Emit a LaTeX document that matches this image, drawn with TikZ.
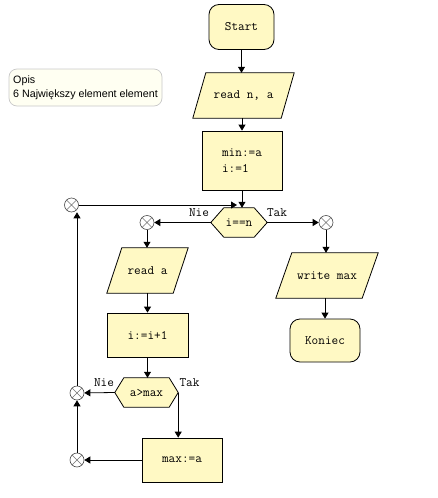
\documentclass[tikz,border=0pt]{standalone}
\usepackage{fontspec}
\setmainfont{Liberation Sans}
\usetikzlibrary{arrows.meta,backgrounds}
\definecolor{boxfill}{HTML}{FFF9C4}
\definecolor{opisfill}{HTML}{FFFFF2}
\definecolor{opisline}{HTML}{C8C8C8}
\newcommand\ioshape[2]{%
  \filldraw[shapeline] ([xshift=#2pt]#1.north west) -- (#1.north east) -- ([xshift=-#2pt]#1.south east) -- (#1.south west) -- cycle;}
\newcommand\hexshape[2]{%
  \filldraw[shapeline] ([xshift=#2pt]#1.north west) -- ([xshift=-#2pt]#1.north east) -- (#1.east) -- ([xshift=-#2pt]#1.south east) -- ([xshift=#2pt]#1.south west) -- (#1.west) -- cycle;}
\begin{document}
\begin{tikzpicture}[x=1pt,y=-1pt,
  base/.style={inner sep=0pt, font=\ttfamily\fontsize{12.9}{16}\selectfont},
  shapeline/.style={draw=black, fill=boxfill, line width=0.8pt},
  term/.style={base, shapeline, rounded corners=10pt},
  proc/.style={base, shapeline},
  plain/.style={base},
  lbl/.style={base},
  arr/.style={line width=0.8pt, -{Triangle[length=6pt,width=7pt]}},
  ln/.style={line width=0.8pt},
  junc/.style={circle, draw=black!70, fill=white, line width=0.6pt, minimum size=14pt, inner sep=0pt,
    path picture={\draw[black!55, line width=0.6pt, shift={(path picture bounding box.center)}]
      (-5,-5) -- (5,5) (-5,5) -- (5,-5);}},
  opis/.style={draw=opisline, fill=opisfill, rounded corners=8pt, line width=0.7pt, inner sep=0pt,
    align=left, font=\fontsize{10.7}{14}\selectfont}
]
\useasboundingbox (0,0) rectangle (438,498);

% description
\node[opis, minimum width=153pt, minimum height=37pt] (opis) at (85.5,87.5)
  {Opis\\6 Największy element element};

% main nodes
\node[term, minimum width=65pt, minimum height=45pt] (start) at (241.5,27) {Start};
\node[plain, minimum width=101pt, minimum height=45pt] (rn) at (243.5,95.5) {read n, a};
\node[proc, minimum width=80pt, minimum height=59pt, align=left] (init) at (242,160.5) {min:=a\\i:=1};
\node[plain, minimum width=56pt, minimum height=29pt] (h1) at (239,222.5) {i==n};
\node[plain, minimum width=81pt, minimum height=45pt] (ra) at (147.5,270.5) {read a};
\node[proc, minimum width=81pt, minimum height=44pt] (inc) at (147.5,335) {i:=i+1};
\node[plain, minimum width=63pt, minimum height=29pt] (h2) at (146.5,392.5) {a>max};
\node[proc, minimum width=80pt, minimum height=44pt] (mx) at (182,460) {max:=a};
\node[plain, minimum width=102pt, minimum height=45pt] (wm) at (327,275.5) {write max};
\node[term, minimum width=70pt, minimum height=43pt] (kn) at (325,340.5) {Koniec};

\begin{scope}[on background layer]
  \ioshape{rn}{13}
  \ioshape{ra}{15}
  \ioshape{wm}{16}
  \hexshape{h1}{13}
  \hexshape{h2}{9}
\end{scope}

% junctions
\node[junc] (c1) at (71.5,205) {};
\node[junc] (c2) at (147,222.5) {};
\node[junc] (c3) at (326,222.5) {};
\node[junc] (c4) at (77,393) {};
\node[junc] (c5) at (77,460) {};
\coordinate (j1) at (237,205);

% labels
\node[lbl] (nie1) at (199,213) {Nie};
\node[lbl] (tak1) at (277,213) {Tak};
\node[lbl] (nie2) at (104,383) {Nie};
\node[lbl] (tak2) at (189.5,383) {Tak};

% connectors
\draw[arr] (start.south) -- (start.south |- rn.north);
\draw[arr] (rn.south -| init.north) -- (init.north);
\draw[arr] (init.south) -- (init.south |- h1.north);
\draw[arr] (c1) -- (j1);
\draw[arr] (h1.west) -- (c2);
\draw[arr] (h1.east) -- (c3);
\draw[arr] (c2) -- (c2 |- ra.north);
\draw[arr] (ra.south) -- (inc.north);
\draw[arr] (inc.south) -- (inc.south |- h2.north);
\draw[arr] (h2.west) -- (c4);
\draw[arr] (h2.east) -- (h2.east |- mx.north);
\draw[arr] (mx.west) -- (c5);
\draw[arr] (c5) -- (c4);
\draw[arr] (c4) -- (c4 |- c1.south);
\draw[arr] (c3) -- (c3 |- wm.north);
\draw[arr] (wm.south -| kn.north) -- (kn.north);
\end{tikzpicture}
\end{document}
